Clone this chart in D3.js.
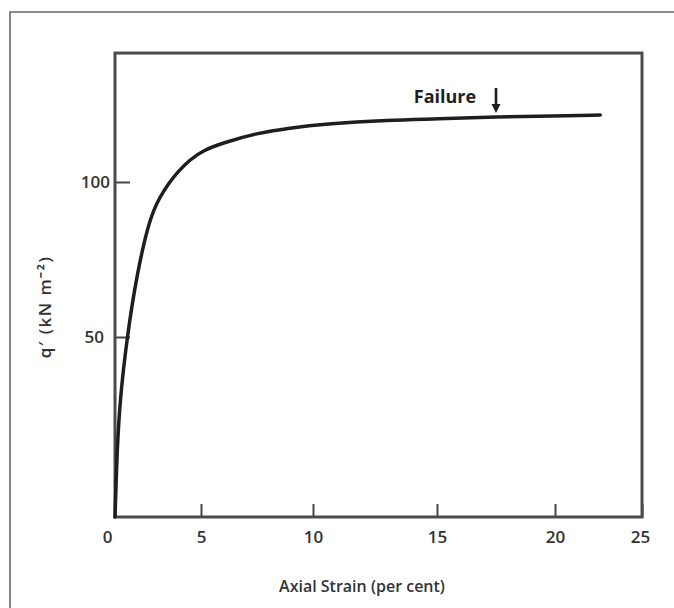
<!DOCTYPE html>
<html>
<head>
<meta charset="utf-8">
<script src="https://cdn.jsdelivr.net/npm/d3@7"></script>
<style>
  html, body { margin: 0; padding: 0; background: #ffffff; }
  svg { display: block; }
</style>
</head>
<body>
<svg id="chart" width="674" height="608"></svg>
<script>
// ---- data ----
const strain = [0, 0.12, 0.29, 0.7, 1.28, 2.03, 2.62, 3.1, 3.7, 4.36, 5.09, 5.98, 7.5, 8.97, 10.4, 13.1, 15, 17.5, 20, 22.6];
const qValues = [0, 18.6, 32.5, 50, 70.6, 88.7, 95.2, 99.5, 103.6, 107.2, 110.2, 112.6, 115.8, 117.4, 118.7, 120, 120.3, 121, 121.3, 121.6];
const xTickValues = [0, 5, 10, 15, 20, 25];
const yTickValues = [50, 100];
const yTop = 141.6;
const failureStrain = 17.5;
const failureLabel = "Failure";
const xTitle = "Axial Strain (per cent)";
const yTitle = "q\u2032 (kN m\u207B\u00B2)";

const svg = d3.select("#chart");

// hand-drawn original axes are not evenly spaced -> piecewise scales
const x = d3.scaleLinear().domain(xTickValues).range([115, 201, 313, 437, 555, 642]);
const y = d3.scaleLinear().domain([0, 50, 100]).range([517, 337, 182]);

const x0 = x(0), x1 = x(25), yb = y(0), yt = y(yTop);

// outer frame (only top and left visible)
svg.append("path")
  .attr("d", `M10,608 L10,12 L674,12`)
  .attr("fill", "none").attr("stroke", "#6a6a6a").attr("stroke-width", 1.6);

// x axis
const gx = svg.append("g").attr("transform", `translate(0,${yb})`)
  .call(d3.axisBottom(x).tickValues(xTickValues).tickSize(-13).tickPadding(14).tickFormat(d3.format("d")));
gx.select(".domain").remove();
gx.selectAll(".tick line").attr("stroke", "#444").attr("stroke-width", 2);
gx.selectAll(".tick text").attr("font-family", "Open Sans, sans-serif").attr("font-size", 17)
  .attr("fill", "#333").attr("font-weight", 600);
gx.selectAll(".tick").filter(d => d === 0).select("text").attr("dx", -8);
gx.selectAll(".tick").filter(d => d === 25).select("text").attr("dx", -2);

// y axis
const gy = svg.append("g").attr("transform", `translate(${x0},0)`)
  .call(d3.axisLeft(y).tickValues(yTickValues).tickSize(-15).tickPadding(5).tickFormat(d3.format("d")));
gy.select(".domain").remove();
gy.selectAll(".tick line").attr("stroke", "#444").attr("stroke-width", 2);
gy.selectAll(".tick text").attr("font-family", "Open Sans, sans-serif").attr("font-size", 17)
  .attr("fill", "#333").attr("font-weight", 600);
gy.selectAll(".tick").filter(d => d === 50).select("text").attr("dx", -6);

// plot frame
svg.append("rect")
  .attr("x", x0).attr("y", yt).attr("width", x1 - x0).attr("height", yb - yt)
  .attr("fill", "none").attr("stroke", "#4a4a4a").attr("stroke-width", 3);

// curve
const line = d3.line().x((d, i) => x(strain[i])).y(d => y(d)).curve(d3.curveBasis);
svg.append("path")
  .datum(qValues)
  .attr("d", line)
  .attr("fill", "none").attr("stroke", "#1e1e1e").attr("stroke-width", 3.5).attr("stroke-linecap", "round");

// failure annotation
const fx = x(failureStrain);
svg.append("line")
  .attr("x1", fx).attr("x2", fx).attr("y1", 88).attr("y2", 106)
  .attr("stroke", "#1e1e1e").attr("stroke-width", 2.6);
svg.append("path")
  .attr("d", `M${fx - 4.5},104 L${fx + 4.5},104 L${fx},113 Z`)
  .attr("fill", "#1e1e1e");
svg.append("text")
  .attr("x", fx - 51).attr("y", 103)
  .attr("text-anchor", "middle")
  .attr("font-family", "Open Sans, sans-serif").attr("font-weight", 700).attr("font-size", 18)
  .attr("fill", "#1e1e1e")
  .text(failureLabel);

// axis titles
svg.append("text")
  .attr("x", 362).attr("y", 592)
  .attr("text-anchor", "middle")
  .attr("font-family", "Open Sans, sans-serif").attr("font-size", 16).attr("font-weight", 600)
  .attr("fill", "#333")
  .text(xTitle);

svg.append("text")
  .attr("transform", "translate(51,307) rotate(-90)")
  .attr("text-anchor", "middle")
  .attr("font-family", "Open Sans, sans-serif").attr("font-size", 17).attr("font-weight", 600)
  .attr("letter-spacing", 1.5)
  .attr("fill", "#333")
  .text(yTitle);
</script>
</body>
</html>
